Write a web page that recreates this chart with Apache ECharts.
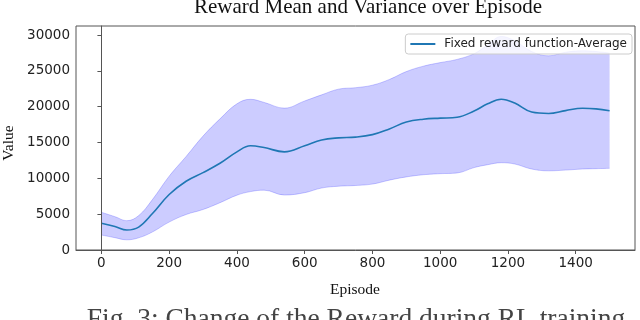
<!DOCTYPE html>
<html>
<head>
<meta charset="utf-8">
<script src="https://cdn.jsdelivr.net/npm/echarts@6/dist/echarts.min.js"></script>
<style>
  html, body { margin: 0; padding: 0; background: #fff; }
  #chart { width: 640px; height: 320px; }
</style>
</head>
<body>
<div id="chart"></div>
<script>
const episodes = [0, 40, 75, 110, 150, 200, 250, 300, 350, 400, 440, 480, 540, 600, 650, 700, 750, 800,
  850, 900, 950, 1000, 1050, 1100, 1140, 1180, 1220, 1270, 1320, 1370, 1420, 1460, 1500]
const meanReward = [3730, 3280, 2790, 3200, 5050, 7750, 9600, 10800, 12100, 13700, 14550, 14300, 13700,
  14550, 15350, 15650, 15750, 16100, 16900, 17850, 18250, 18400, 18520, 19400, 20400, 21030, 20500,
  19250, 19050, 19450, 19780, 19700, 19440]
const upperReward = [5260, 4650, 4090, 4800, 7000, 10300, 13050, 15900, 18300, 20400, 21030, 20600, 19800,
  20800, 21650, 22450, 22650, 23000, 23800, 24900, 25650, 26150, 26600, 27400, 28600, 29800, 29200,
  27700, 27100, 27600, 27800, 27700, 27480]
const lowerReward = [2090, 1720, 1420, 1700, 2500, 3900, 4950, 5650, 6600, 7650, 8150, 8350, 7670,
  8000, 8650, 8900, 9000, 9200, 9750, 10200, 10500, 10650, 10750, 11500, 11900, 12180, 12000,
  11300, 11050, 11150, 11300, 11350, 11400]
const xTicks = [0, 200, 400, 600, 800, 1000, 1200, 1400]
const yTicks = [0, 5000, 10000, 15000, 20000, 25000, 30000]

const serif = '"Liberation Serif", "DejaVu Serif", serif'
const sans = '"DejaVu Sans", sans-serif'
const bandColor = 'rgba(0,0,255,0.2)'

const chart = echarts.init(document.getElementById('chart'))

// band is a stack: lower curve (no fill) + spread on top of it (filled).
// value column comes first so the stack runs along y, not x
const bandEncode = { x: 1, y: 0 }

chart.setOption({
  animation: false,
  grid: { left: 76, right: 5, top: 26, bottom: 70, show: true, borderColor: '#555', borderWidth: 1 },
  legend: {
    data: ['Fixed reward function-Average'],
    right: 8,
    top: 34,
    icon: 'rect',
    itemWidth: 25,
    itemHeight: 2,
    itemGap: 0,
    padding: [4, 5],
    borderColor: '#ccc',
    borderWidth: 1,
    borderRadius: 3,
    backgroundColor: 'rgba(255,255,255,0.8)',
    textStyle: { fontFamily: sans, fontSize: 12, color: '#222', padding: [0, 0, 0, 4] }
  },
  xAxis: {
    type: 'value',
    min: -75,
    max: 1575,
    z: 5,
    axisLine: { show: true, lineStyle: { color: '#555', width: 1 } },
    axisTick: { show: true, customValues: xTicks, length: 4, lineStyle: { color: '#555' } },
    axisLabel: { customValues: xTicks, margin: 6, fontFamily: sans, fontSize: 13.5, color: '#222',
      formatter: v => String(v) },
    splitLine: { show: false }
  },
  yAxis: {
    type: 'value',
    min: 0,
    max: 31260,
    z: 5,
    axisLine: { show: true, lineStyle: { color: '#555', width: 1 } },
    axisTick: { show: true, customValues: yTicks, length: 4, lineStyle: { color: '#555' } },
    axisLabel: { customValues: yTicks, margin: 6, fontFamily: sans, fontSize: 13.5, color: '#222',
      formatter: v => String(v) },
    splitLine: { show: false }
  },
  series: [
    {
      name: 'lower',
      type: 'line',
      stack: 'band',
      smooth: 0.4,
      symbol: 'none',
      encode: bandEncode,
      data: episodes.map((e, i) => [lowerReward[i], e]),
      lineStyle: { color: bandColor, width: 1 },
      z: 1
    },
    {
      name: 'spread',
      type: 'line',
      stack: 'band',
      smooth: 0.4,
      symbol: 'none',
      encode: bandEncode,
      data: episodes.map((e, i) => [upperReward[i] - lowerReward[i], e]),
      lineStyle: { color: bandColor, width: 1 },
      areaStyle: { color: bandColor, opacity: 1 },
      z: 1
    },
    {
      name: 'Fixed reward function-Average',
      type: 'line',
      smooth: 0.4,
      symbol: 'none',
      data: episodes.map((e, i) => [e, meanReward[i]]),
      itemStyle: { color: '#1f77b4' },
      lineStyle: { color: '#1f77b4', width: 1.6 },
      z: 3
    }
  ],
  graphic: [
    {
      type: 'text', x: 368, y: 7,
      style: { text: 'Reward Mean and Variance over Episode', font: '21px ' + serif, fill: '#111',
        textAlign: 'center', textVerticalAlign: 'middle' }
    },
    {
      type: 'text', x: 355, y: 290,
      style: { text: 'Episode', font: '15.5px ' + serif, fill: '#111', textAlign: 'center', textVerticalAlign: 'middle' }
    },
    {
      type: 'text', x: 9, y: 143, rotation: Math.PI / 2,
      style: { text: 'Value', font: '15.5px ' + serif, fill: '#111', textAlign: 'center', textVerticalAlign: 'middle' }
    },
    {
      type: 'text', x: 356, y: 320,
      style: { text: 'Fig. 3: Change of the Reward during RL training', font: '27.5px ' + serif, fill: '#444',
        textAlign: 'center', textVerticalAlign: 'middle' }
    }
  ]
})
</script>
</body>
</html>
